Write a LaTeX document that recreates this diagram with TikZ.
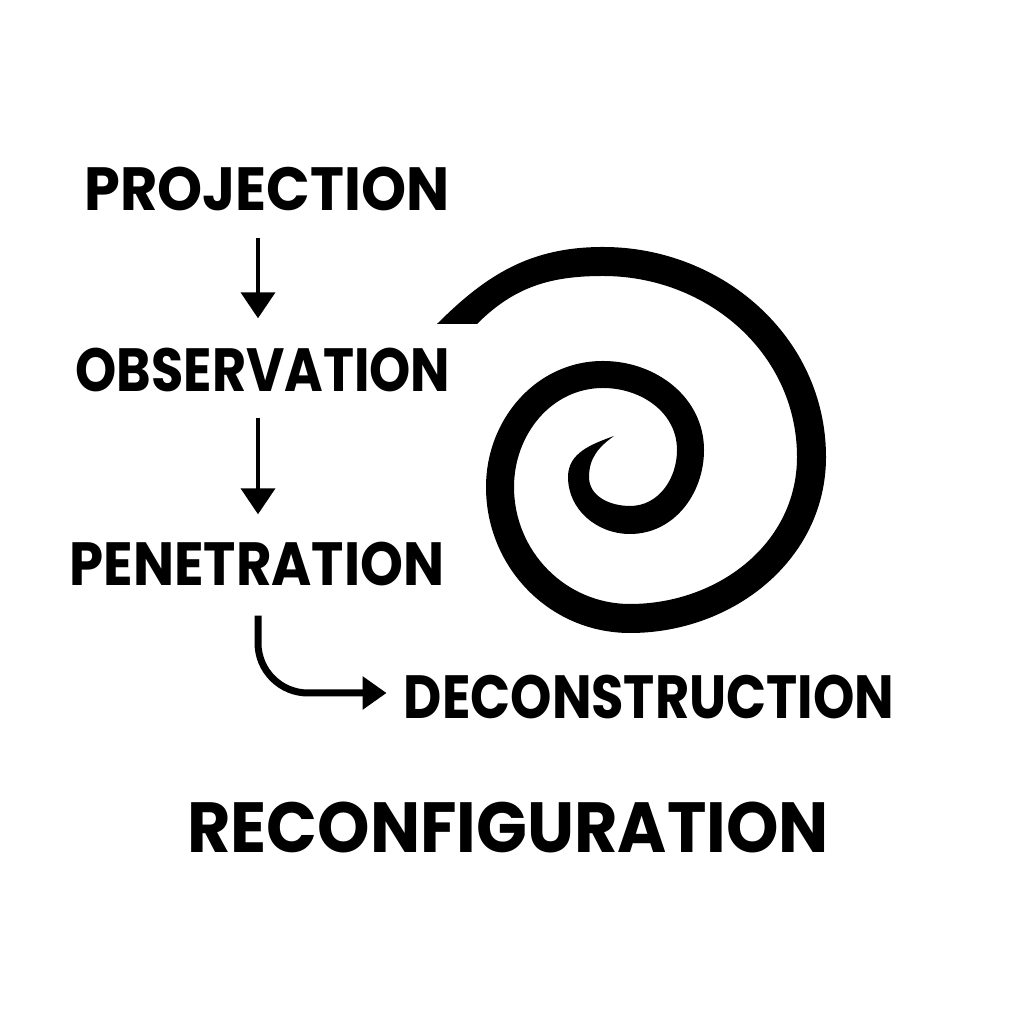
\documentclass[tikz,border=0pt]{standalone}
\usepackage{fontspec}
\setmainfont{Poppins}
\usetikzlibrary{arrows.meta}
\begin{document}
\begin{tikzpicture}[x=1pt,y=1pt,
  lbl/.style={font=\fontsize{61}{61}\selectfont\bfseries, inner sep=0pt, text height=43pt, text depth=0pt, anchor=center},
  biglbl/.style={font=\fontsize{71}{71}\selectfont\bfseries, inner sep=0pt, text height=50pt, text depth=0pt, anchor=center},
  thinarrow/.style={line width=4pt, -{Triangle[width=34pt,length=26pt]}},
  thickarrow/.style={line width=7pt, -{Triangle[width=32pt,length=24pt]}}]
\useasboundingbox (0,0) rectangle (1024,1024);
\fill[white] (0,0) rectangle (1024,1024);
% labels
\node[lbl] (proj) at (267,834.5) {\scalebox{0.94}[1]{PROJECTION}};
\node[lbl] (obs) at (263,654) {\scalebox{0.86}[1]{OBSERVATION}};
\node[lbl] (pen) at (257,460) {\scalebox{0.895}[1]{PENETRATION}};
\node[lbl] (dec) at (649,327) {\scalebox{0.863}[1]{DECONSTRUCTION}};
\node[biglbl] (reco) at (508,196) {\scalebox{0.94}[1]{RECONFIGURATION}};
% arrows
\draw[thinarrow, shorten <=27pt, shorten >=30pt] ([xshift=-9pt]proj.south) -- ([xshift=-5pt]obs.north);
\draw[thinarrow, shorten <=26pt, shorten >=28pt] ([xshift=-5pt]obs.south) -- ([xshift=1pt]pen.north);
\draw[thickarrow, rounded corners=50pt, shorten <=30pt, shorten >=17pt] ([xshift=1pt]pen.south) |- ([yshift=4pt]dec.west);
% spiral
\fill[black] (437,700) to[out=45,in=180] (603,777) to[out=0,in=90] (826,567)
  to[out=-90,in=0] (630,391) to[out=180,in=-90] (486,537)
  to[out=90,in=180] (603,663) to[out=0,in=90] (704,574)
  to[out=-90,in=0] (630,490) to[out=180,in=-90] (568,547)
  to[out=90,in=200] (614,588)
  to[out=215,in=90] (589,547)
  to[out=-90,in=180] (630,518) to[out=0,in=-90] (677,574)
  to[out=90,in=0] (603,636) to[out=180,in=90] (514,537)
  to[out=-90,in=180] (630,420) to[out=0,in=-90] (797,567)
  to[out=90,in=0] (603,748) to[out=180,in=45] (477,700) -- cycle;
\end{tikzpicture}
\end{document}
